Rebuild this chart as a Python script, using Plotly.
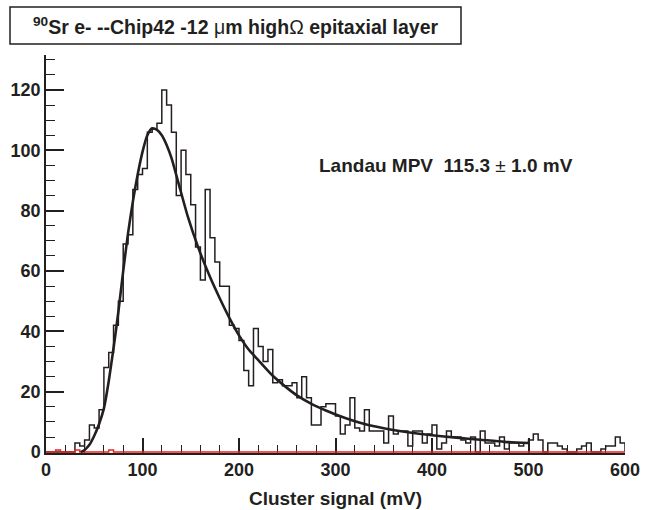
import plotly.graph_objects as go

# ---------------- data ----------------
bin_lo = list(range(0, 600, 5))          # 5 mV bins, lower edges
counts = [0, 0, 0, 0, 0, 0,
          3, 2, 4, 9, 8, 14, 28, 33, 42, 50,
          69, 72, 87, 92, 94, 106, 107, 109, 120, 115,
          106, 85, 100, 92, 82, 68, 57, 87, 71, 63,
          55, 55, 42, 41, 37, 27, 22, 41, 35, 30,
          34, 23, 24, 22, 22, 23, 18, 25, 18, 9,
          9, 15, 16, 16, 12, 6, 9, 18, 8, 7,
          14, 7, 7, 7, 3, 12, 6, 7, 7, 2,
          7, 7, 3, 6, 9, 1, 3, 7, 5, 5,
          4, 3, 5, 0, 7, 3, 3, 2, 5, 1,
          3, 3, 2, 3, 4, 6, 4, 0, 3, 3,
          2, 1, 0, 0, 1, 2, 3, 0, 0, 1,
          2, 2, 5, 3]
red_counts = [0.0] * 120
red_counts[2] = 0.7    # 10-15 mV
red_counts[6] = 0.7    # 30-35 mV
red_counts[13] = 0.7   # 65-70 mV

fit_mv = [36, 40, 45, 50, 55, 60, 65, 70, 75, 80, 85, 90, 95, 100, 105, 110,
          115, 120, 125, 130, 137, 147, 157.5, 170, 180, 190, 200, 210, 220,
          235, 250, 260, 275, 290, 310, 330, 350, 375, 400, 425, 450, 475, 500]
fit_val = [0.0, 0.7, 2.4, 5.4, 9.3, 14.5, 23.5, 34.5, 46.5, 60, 72.5, 83, 92,
           99.5, 105, 107.3, 106.8, 105, 101.8, 97.5, 89.5, 78, 68, 58, 51,
           44.5, 38.7, 34, 30.5, 25.3, 21.2, 18.8, 16, 13.8, 11.3, 9.3, 7.9,
           6.6, 5.6, 4.8, 4.1, 3.4, 3.0]

title_text = "<b><sup>90</sup>Sr e- --Chip42 -12 </b>\u03bc<b>m high</b>\u03a9<b> epitaxial layer</b>"
fit_text = "<b>Landau MPV \u00a0115.3 </b>\u00b1<b> 1.0 mV</b>"
x_title = "Cluster signal (mV)"

# ---------------- build step outlines from the bins ----------------
edges = bin_lo + [bin_lo[-1] + 5]


def step(vals):
    xs, ys = [edges[0]], [0]
    for i, v in enumerate(vals):
        xs += [edges[i], edges[i + 1]]
        ys += [v, v]
    xs.append(edges[-1])
    ys.append(0)
    return xs, ys


hx, hy = step(counts)
rx, ry = step(red_counts)

INK = "#231f20"
FONT = "Liberation Sans"

fig = go.Figure()
fig.add_trace(go.Scatter(x=hx, y=hy, mode="lines",
                         line=dict(color=INK, width=1.5), hoverinfo="skip",
                         showlegend=False))
fig.add_trace(go.Scatter(x=rx, y=ry, mode="lines",
                         line=dict(color="#e8251f", width=1.5), hoverinfo="skip",
                         showlegend=False))
fig.add_trace(go.Scatter(x=fit_mv, y=fit_val, mode="lines",
                         line=dict(color=INK, width=2.6, shape="spline", smoothing=0.6),
                         hoverinfo="skip", showlegend=False))

# plot area in pixels: x 46..625, y 55..453
L, R, T, B = 46, 27, 55, 57
W, H = 652, 510
pw, ph = W - L - R, H - T - B


def px(x):
    return (x - L) / pw


def py(y):
    return (H - B - y) / ph


fig.update_layout(
    width=W, height=H,
    margin=dict(l=L, r=R, t=T, b=B, autoexpand=False),
    paper_bgcolor="white", plot_bgcolor="white",
    font=dict(family=FONT, color=INK),
    xaxis=dict(range=[0, 600], showgrid=False, zeroline=False, automargin=False,
               showline=True, linecolor=INK, linewidth=1.5,
               ticks="inside", ticklen=15, tickwidth=1.5, tickcolor=INK,
               dtick=100, tick0=0,
               minor=dict(dtick=20, ticks="inside", ticklen=8, tickwidth=1.2,
                          tickcolor=INK),
               tickfont=dict(family=FONT, size=18, weight="bold", color=INK),
               title=dict(text=x_title, standoff=12,
                          font=dict(family=FONT, size=19, weight="bold", color=INK)),
               layer="below traces"),
    yaxis=dict(range=[-0.3, 131.6], showgrid=False, zeroline=False, automargin=False,
               showline=True, linecolor=INK, linewidth=1.5,
               ticks="inside", ticklen=18, tickwidth=1.5, tickcolor=INK,
               dtick=20, tick0=0,
               minor=dict(dtick=5, ticks="inside", ticklen=9, tickwidth=1.2,
                          tickcolor=INK),
               tickfont=dict(family=FONT, size=18, weight="bold", color=INK),
               layer="below traces"),
    shapes=[dict(type="rect", xref="paper", yref="paper",
                 x0=px(10), x1=px(461), y0=py(44), y1=py(7),
                 line=dict(color=INK, width=1.5), fillcolor="white")],
    annotations=[
        dict(text=title_text, xref="paper", yref="paper",
             x=px(235.5), y=py(26), xanchor="center", yanchor="middle",
             showarrow=False, font=dict(family=FONT, size=19.5, color=INK)),
        dict(text=fit_text, xref="paper", yref="paper",
             x=px(317), y=py(165), xanchor="left", yanchor="middle",
             showarrow=False, font=dict(family=FONT, size=19, color=INK)),
    ],
)

fig.write_html("out.html", config={"displayModeBar": False},
               post_script="document.body.style.margin='0';document.body.style.padding='0';")
